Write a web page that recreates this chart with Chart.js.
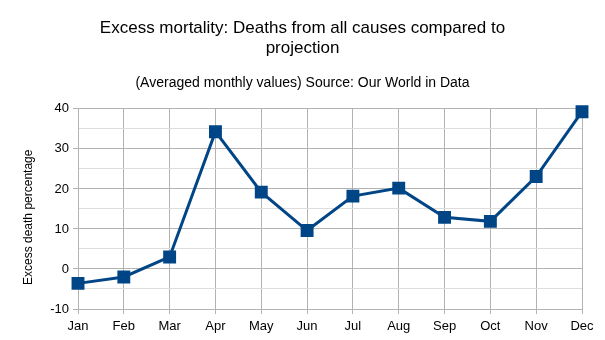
<!DOCTYPE html>
<html>
<head>
<meta charset="utf-8">
<script src="https://cdn.jsdelivr.net/npm/chart.js@4/dist/chart.umd.min.js"></script>
<style>
html,body{margin:0;padding:0;background:#fff;}
#wrap{width:605px;height:340px;}
</style>
</head>
<body>
<div id="wrap"><canvas id="c" width="605" height="340"></canvas></div>
<script>
const months = ["Jan","Feb","Mar","Apr","May","Jun","Jul","Aug","Sep","Oct","Nov","Dec"];
const excessDeaths = [-3.6, -2.0, 3.0, 34.3, 19.2, 9.6, 18.2, 20.2, 12.9, 11.9, 23.1, 39.3];
const titleLines = ["Excess mortality: Deaths from all causes compared to", "projection"];
const subtitleText = "(Averaged monthly values) Source: Our World in Data";
const yAxisTitle = "Excess death percentage";
const yMin = -10, yMax = 40;

const FONT = "'Liberation Sans', Arial, sans-serif";

new Chart(document.getElementById('c'), {
  type: 'line',
  data: {
    labels: months,
    datasets: [{
      data: excessDeaths,
      borderColor: '#004586',
      backgroundColor: '#004586',
      borderWidth: 3,
      pointStyle: 'rect',
      pointRadius: 7,
      pointHoverRadius: 7,
      tension: 0,
      fill: false,
      clip: false,
      yAxisID: 'y'
    }]
  },
  options: {
    responsive: false,
    animation: false,
    devicePixelRatio: 1,
    layout: { padding: { left: 0, right: 0, top: 0, bottom: 0 } },
    plugins: {
      legend: { display: false },
      tooltip: { enabled: false },
      title: {
        display: true,
        text: titleLines,
        color: '#000',
        font: { family: FONT, size: 17, weight: 'normal', lineHeight: 1.15 },
        padding: { top: 19, bottom: 17 }
      },
      subtitle: {
        display: true,
        text: subtitleText,
        color: '#000',
        font: { family: FONT, size: 14, weight: 'normal', lineHeight: 1.2 },
        padding: { top: 0, bottom: 17 }
      }
    },
    scales: {
      x: {
        offset: false,
        grid: {
          color: '#b3b3b3',
          tickColor: '#b3b3b3',
          tickLength: 5,
          drawOnChartArea: true
        },
        border: { color: '#b3b3b3' },
        ticks: {
          color: '#000',
          font: { family: FONT, size: 13 },
          padding: 5,
          maxRotation: 0,
          autoSkip: false
        },
        afterFit: (s) => { s.height = 31; }
      },
      y: {
        min: yMin,
        max: yMax,
        grid: {
          color: (ctx) => (ctx.tick && ctx.tick.value % 10 === 0) ? '#b3b3b3' : '#dddddd',
          tickColor: (ctx) => (ctx.tick && ctx.tick.value % 10 === 0) ? '#b3b3b3' : 'rgba(0,0,0,0)',
          tickLength: 5
        },
        border: { color: '#b3b3b3' },
        ticks: {
          stepSize: 5,
          color: '#000',
          font: { family: FONT, size: 13 },
          padding: 4,
          callback: (v) => (v % 10 === 0) ? String(v) : ''
        },
        title: {
          display: true,
          text: yAxisTitle + '     ',
          color: '#000',
          font: { family: FONT, size: 12 },
          padding: { top: 21, bottom: 0 }
        },
        afterFit: (s) => { s.width = 78; }
      },
      yRight: {
        position: 'right',
        display: true,
        min: yMin,
        max: yMax,
        grid: { display: false, drawTicks: false },
        border: { display: false },
        ticks: { display: false },
        afterFit: (s) => { s.width = 23; }
      }
    }
  }
});
</script>
</body>
</html>
